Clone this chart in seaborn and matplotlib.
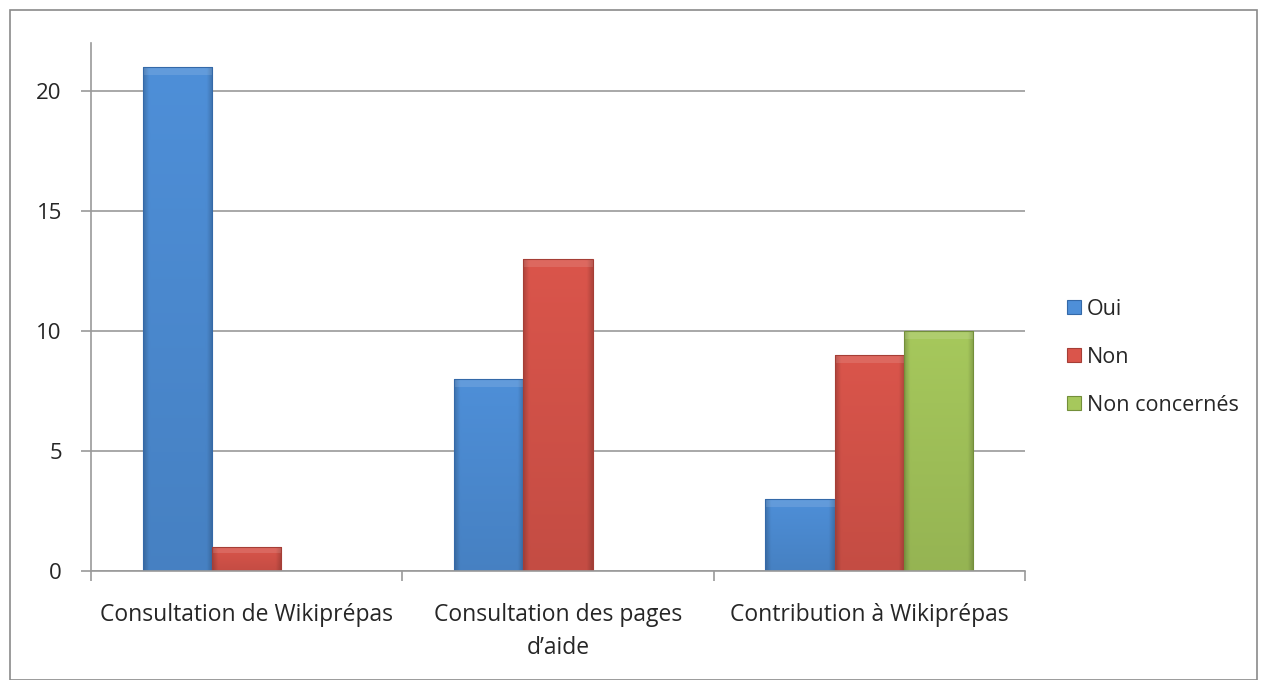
import numpy as np
import pandas as pd
import matplotlib.pyplot as plt
import seaborn as sns
from matplotlib.patches import Rectangle, Patch
from matplotlib.colors import to_rgb

categories = ["Consultation de Wikiprépas", "Consultation des pages\nd\u2019aide", "Contribution à Wikiprépas"]
series = ["Oui", "Non", "Non concernés"]
oui = [21, 8, 3]
non = [1, 13, 9]
non_concernes = [0, 0, 10]
colors = ["#4E8FD8", "#DA554B", "#A6C85C"]
edges = ["#3469A8", "#A53E36", "#738F3A"]

df = pd.DataFrame({
    "categorie": categories * 3,
    "reponse": [s for s in series for _ in categories],
    "valeur": oui + non + non_concernes,
})

sns.set_style("white")
plt.rcParams["font.family"] = ["Open Sans", "DejaVu Sans"]

fig = plt.figure(figsize=(12.66, 6.8), dpi=100)
ax = fig.add_axes([0.0719, 0.1603, 0.7377, 0.7765])

sns.barplot(data=df, x="categorie", y="valeur", hue="reponse", hue_order=series,
            palette=colors, width=0.667, gap=0, ax=ax, legend=False, saturation=1)

ax.set_ylim(0, 22)
ax.set_xlim(-0.5, 2.5)


def shade(base):
    # soft bevel: darker sides and bottom
    r = np.array(to_rgb(base))
    h, w = 60, 40
    yy = np.linspace(0, 1, h)[:, None]
    xx = np.linspace(0, 1, w)[None, :]
    side = 1 - 0.18 * np.clip(1 - np.minimum(xx, 1 - xx) / 0.08, 0, 1)
    vert = 0.90 + 0.10 * yy
    return np.clip(r[None, None, :] * (side * vert)[:, :, None], 0, 1)


# darker edges, gradient fill, hide empty bars
for i, cont in enumerate(ax.containers):
    for bar in cont:
        bar.set_edgecolor(edges[i])
        bar.set_linewidth(0.8)
        if bar.get_height() == 0:
            bar.set_visible(False)
            continue
        x0, y0 = bar.get_x(), bar.get_y()
        im = ax.imshow(shade(colors[i]), extent=(x0, x0 + bar.get_width(), y0, y0 + bar.get_height()),
                       origin="lower", aspect="auto", zorder=bar.get_zorder() + 0.1, interpolation="bilinear")
        im.set_clip_path(bar)
        top = min(0.35, bar.get_height() * 0.25)
        hl = Rectangle((x0, y0 + bar.get_height() - top), bar.get_width(), top,
                       facecolor="white", alpha=0.12, edgecolor="none", zorder=bar.get_zorder() + 0.2)
        ax.add_patch(hl)
        bar.set_zorder(bar.get_zorder() + 0.3)
        bar.set_facecolor("none")

ax.set_xlim(-0.5, 2.5)
ax.set_ylim(0, 22)
ax.set_yticks([0, 5, 10, 15, 20])
ax.yaxis.grid(True, color="#9a9a9a", linewidth=1.2)
ax.set_axisbelow(True)
ax.set_xlabel("")
ax.set_ylabel("")

for s in ["top", "right"]:
    ax.spines[s].set_visible(False)
for s in ["left", "bottom"]:
    ax.spines[s].set_color("#9a9a9a")
    ax.spines[s].set_linewidth(1.2)
    ax.spines[s].set_zorder(5)

ax.set_xticks([0, 1, 2])
ax.set_xticklabels(categories, fontsize=16.5, linespacing=1.5)
ax.tick_params(axis="x", length=0, pad=23)
ax.tick_params(axis="y", labelsize=16, length=7, width=1.2, color="#9a9a9a", direction="out", left=True, pad=14)
# category boundary ticks
ax.set_xticks([-0.5, 0.5, 1.5, 2.5], minor=True)
ax.tick_params(axis="x", which="minor", length=7, width=1.2, color="#9a9a9a", direction="out", bottom=True)

handles = [Patch(facecolor=c, edgecolor=e, linewidth=0.8) for c, e in zip(colors, edges)]
ax.legend(handles, series, loc="center left", bbox_to_anchor=(1.033, 0.405), frameon=False,
          fontsize=15.5, handlelength=0.65, handleheight=0.65, handletextpad=0.3, labelspacing=1.25,
          borderpad=0)

fig.patches.append(Rectangle((10 / 1266, 0.0), 1247 / 1266, 670 / 680, transform=fig.transFigure,
                             fill=False, edgecolor="#8a8a8a", linewidth=1.2))

fig.savefig("out.png", dpi=100)
